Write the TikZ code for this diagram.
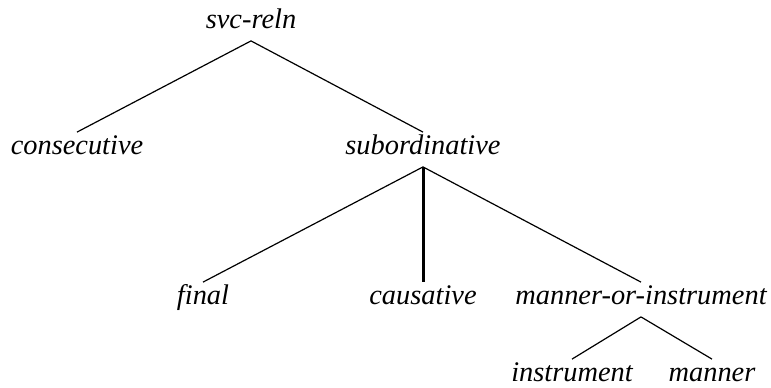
\documentclass[tikz,border=0pt]{standalone}
\usepackage{fontspec}
\setmainfont{Liberation Serif}
\newfontfamily\treeit{Liberation Serif Italic}
\usepackage{tikz}
\usetikzlibrary{calc}
\tikzset{
  tnode/.style={
    anchor=base,
    inner sep=3.75pt,
    text height=0.7em,
    text depth=0.25em,
    font=\treeit\fontsize{14.2pt}{17pt}\selectfont},
  branch/.style={line width=0.6pt},
  heavy/.style={line width=1.5pt}
  }
\begin{document}
\begin{tikzpicture}[x=0.5pt,y=-0.5pt]
      \useasboundingbox (0,0) rectangle (771,387);
      \node [tnode] (svc) at (251,28) {svc-reln};
      \node [tnode] (cons) at (77,154) {consecutive};
      \node [tnode] (sub) at (423,154) {subordinative};
      \node [tnode] (fin) at (203,304) {final};
      \node [tnode] (caus) at (423,304) {causative};
      \node [tnode] (moi) at (641,304) {manner-or-instrument};
      \node [tnode] (inst) at (572,381) {instrument};
      \node [tnode] (man) at (712,381) {manner};
      \draw [branch] (svc.south) to (cons.north);
      \draw [branch] (svc.south) to (sub.north);
      \draw [branch] (sub.south) to (fin.north);
      \draw [heavy] (sub.south) to (caus.north);
      \draw [branch] (sub.south) to (moi.north);
      \draw [branch] (moi.south) to (inst.north);
      \draw [branch] (moi.south) to (man.north);
    \end{tikzpicture}
\end{document}
